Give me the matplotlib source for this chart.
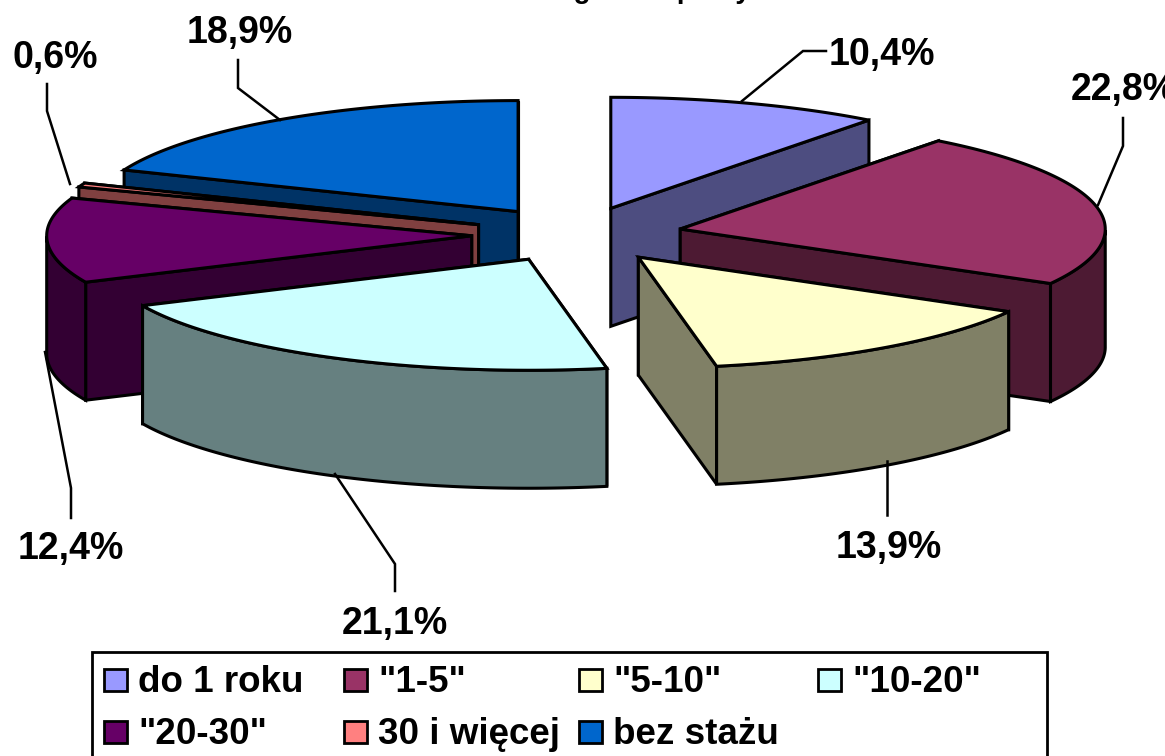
import numpy as np
import matplotlib
matplotlib.use("Agg")
import matplotlib.pyplot as plt
from matplotlib.patches import Polygon, Rectangle

plt.rcParams['font.family'] = ['Liberation Sans', 'DejaVu Sans']

categories = ['do 1 roku', '"1-5"', '"5-10"', '"10-20"', '"20-30"', '30 i więcej', 'bez stażu']
values = [10.4, 22.8, 13.9, 21.1, 12.4, 0.6, 18.9]
value_labels = ['10,4%', '22,8%', '13,9%', '21,1%', '12,4%', '0,6%', '18,9%']
top_colors = ['#9999FF', '#993366', '#FFFFCC', '#CCFFFF', '#660066', '#FF8080', '#0066CC']
side_colors = ['#4D4D80', '#4D1A33', '#808066', '#668080', '#330033', '#804040', '#003366']

# projection of the pie (pixels)
CX, CY, RX, RY, DEPTH, EXPLODE = 577, 234.6, 425, 111, 118, 0.248
draw_order = [0, 1, 2, 6, 5, 4, 3]
LW = 2.2

label_pos = [(882, 55), (1123.5, 90), (889, 548), (395, 624), (71, 549), (55, 58), (240, 33)]
leader_pts = [[(742, 101), (803, 51), (826, 51)],
              [(1098, 205), (1123, 146), (1123, 118)],
              [(887, 461), (887, 515)],
              [(335, 474), (395, 564), (395, 591)],
              [(45, 352), (71, 488), (71, 518)],
              [(70, 184), (47, 111), (47, 84)],
              [(280, 120), (238, 88), (238, 60)]]

fig = plt.figure(figsize=(11.65, 7.56), dpi=100)
ax = fig.add_axes([0, 0, 1, 1])
ax.set_xlim(0, 1165)
ax.set_ylim(756, 0)
ax.axis('off')


def pt(ax0, ay0, th):
    return ax0 + RX * np.sin(th), ay0 - RY * np.cos(th)


fractions = np.array(values) / np.sum(values)
edges = np.concatenate([[0], np.cumsum(fractions)]) * 2 * np.pi
z = 2
for i in draw_order:
    a, b = edges[i], edges[i + 1]
    mid = (a + b) / 2
    ax0 = CX + EXPLODE * RX * np.sin(mid)
    ay0 = CY - 0.25 * RY * np.cos(mid)
    th = np.linspace(a, b, 120)
    xs, ys = pt(ax0, ay0, th)
    style = dict(edgecolor='black', linewidth=LW, joinstyle='miter')
    faces = []
    for e in (a, b):
        ex, ey = pt(ax0, ay0, e)
        faces.append(([ax0, ex, ex, ax0], [ay0, ey, ey + DEPTH, ay0 + DEPTH]))
    faces.sort(key=lambda f: np.mean(f[1]))
    for fx, fy in faces:
        ax.add_patch(Polygon(np.c_[fx, fy], closed=True, facecolor=side_colors[i], zorder=z, **style))
        z += 1
    front = (th >= np.pi / 2) & (th <= 3 * np.pi / 2)
    if front.any():
        fx, fy = xs[front], ys[front]
        poly = np.r_[np.c_[fx, fy], np.c_[fx[::-1], fy[::-1] + DEPTH]]
        ax.add_patch(Polygon(poly, closed=True, facecolor=side_colors[i], zorder=z, **style))
        z += 1
    ax.add_patch(Polygon(np.r_[[[ax0, ay0]], np.c_[xs, ys]], closed=True,
                         facecolor=top_colors[i], zorder=z, **style))
    z += 1

FS = 27
LEGEND_FS = 26.5
for txt, (lx, ly), pts in zip(value_labels, label_pos, leader_pts):
    ax.text(lx, ly, txt, fontsize=FS, fontweight='bold', ha='center', va='center', clip_on=False, zorder=z + 2)
    p = np.array(pts)
    ax.plot(p[:, 0], p[:, 1], color='black', lw=1.8, zorder=z + 1, solid_joinstyle='miter')

# cropped title: only descenders reach the canvas
ax.text(751, -2, 'wg stażu pracy', fontsize=20, fontweight='bold',
        ha='right', va='baseline', zorder=z + 2)

# legend
ax.add_patch(Rectangle((92, 652), 955, 130, facecolor='white', edgecolor='black', linewidth=2, zorder=z + 3))
col_x = [104, 344, 579, 818]
row_y = [680, 732]
for k, (name, col) in enumerate(zip(categories, top_colors)):
    x0 = col_x[k % 4]
    y0 = row_y[k // 4]
    ax.add_patch(Rectangle((x0, y0 - 11), 23, 22, facecolor=col, edgecolor='black', linewidth=2, zorder=z + 4))
    ax.text(x0 + 34, y0 + 2, name, fontsize=LEGEND_FS, fontweight='bold', ha='left', va='center', zorder=z + 4)

fig.savefig('out.png', dpi=100)
